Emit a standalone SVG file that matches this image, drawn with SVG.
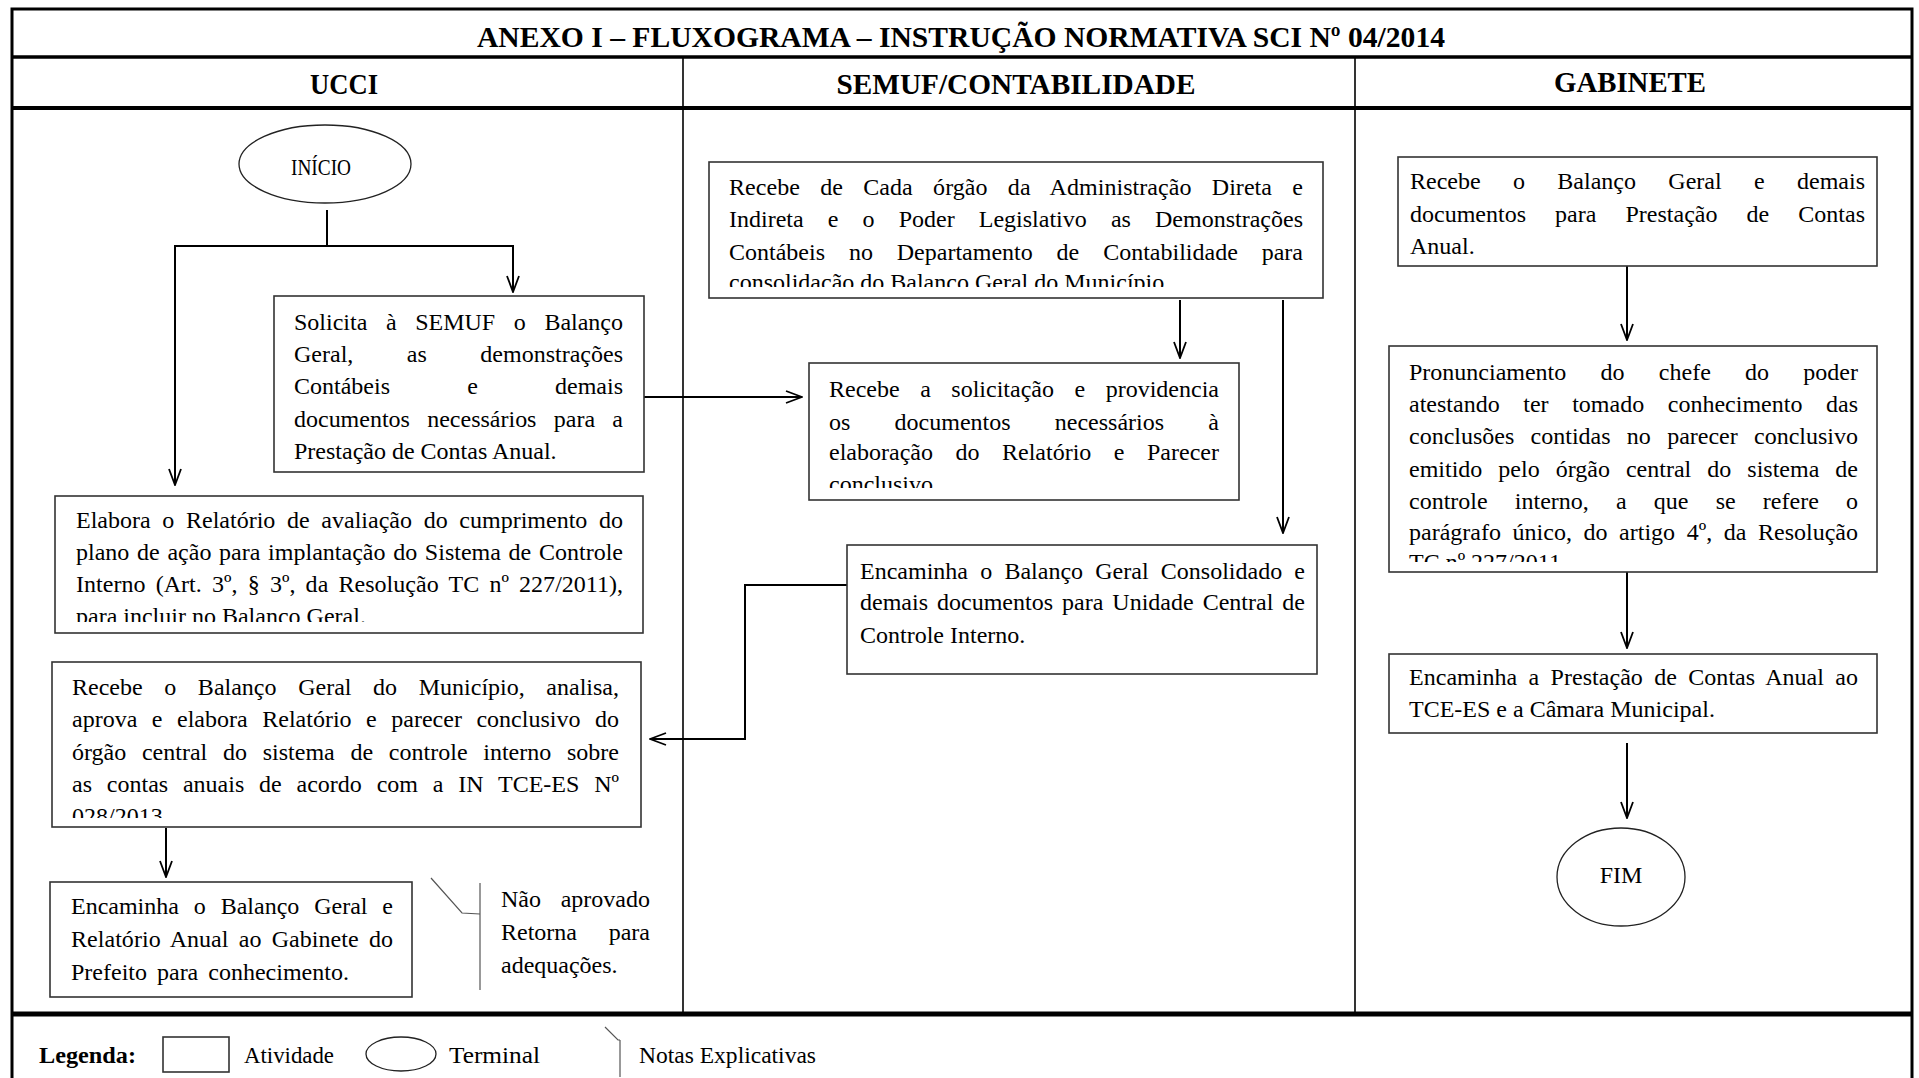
<svg xmlns="http://www.w3.org/2000/svg" width="1919" height="1078" viewBox="0 0 1919 1078">
<style>
.t{font-family:"Liberation Serif","Times New Roman",serif;font-size:24px;fill:#000}
.b{font-family:"Liberation Serif","Times New Roman",serif;font-weight:bold;fill:#000}
.box{fill:#fff;stroke:#333;stroke-width:1.6}
.term{fill:#fff;stroke:#222;stroke-width:1.3}
.conn{fill:none;stroke:#000;stroke-width:2}
.note{fill:none;stroke:#555;stroke-width:1.2}
.thick{stroke:#000;fill:none}
</style>
<defs>
<marker id="arr" markerUnits="userSpaceOnUse" viewBox="0 0 18 14" refX="17" refY="7" markerWidth="18" markerHeight="14" orient="auto">
<path d="M1,1 L17,7 L1,13" fill="none" stroke="#000" stroke-width="1.8"/>
</marker>
<clipPath id="cElabora" clipPathUnits="userSpaceOnUse"><rect x="55" y="496" width="588" height="126"/></clipPath>
<clipPath id="cRecAn" clipPathUnits="userSpaceOnUse"><rect x="52" y="662" width="589" height="156"/></clipPath>
<clipPath id="cCada" clipPathUnits="userSpaceOnUse"><rect x="709" y="162" width="614" height="125"/></clipPath>
<clipPath id="cSolic" clipPathUnits="userSpaceOnUse"><rect x="809" y="363" width="430" height="125"/></clipPath>
<clipPath id="cPron" clipPathUnits="userSpaceOnUse"><rect x="1389" y="346" width="488" height="216"/></clipPath>
</defs>
<rect width="1919" height="1078" fill="#fff"/>

<g id="frame">
<rect x="12" y="9" width="1900" height="1080" class="thick" stroke-width="3"/>
<line x1="12" y1="57" x2="1912" y2="57" class="thick" stroke-width="3.5"/>
<line x1="12" y1="108" x2="1912" y2="108" class="thick" stroke-width="4"/>
<line x1="12" y1="1014" x2="1912" y2="1014" class="thick" stroke-width="5"/>
<line x1="683" y1="57" x2="683" y2="1014" stroke="#000" stroke-width="1.6"/>
<line x1="1355" y1="57" x2="1355" y2="1014" stroke="#000" stroke-width="1.6"/>
<text class="b" x="961" y="47" font-size="30" text-anchor="middle" textLength="968" lengthAdjust="spacingAndGlyphs">ANEXO I – FLUXOGRAMA – INSTRUÇÃO NORMATIVA SCI Nº 04/2014</text>
<text class="b" x="344" y="94" font-size="30" text-anchor="middle" textLength="68" lengthAdjust="spacingAndGlyphs">UCCI</text>
<text class="b" x="1016" y="94" font-size="30" text-anchor="middle" textLength="359" lengthAdjust="spacingAndGlyphs">SEMUF/CONTABILIDADE</text>
<text class="b" x="1630" y="92" font-size="30" text-anchor="middle" textLength="152" lengthAdjust="spacingAndGlyphs">GABINETE</text>
</g>

<g id="connectors">
<path class="conn" d="M327,210 V246"/>
<path class="conn" d="M327,246 H513 V292" marker-end="url(#arr)"/>
<path class="conn" d="M327,246 H175 V485" marker-end="url(#arr)"/>
<path class="conn" d="M644,397 H802" marker-end="url(#arr)"/>
<path class="conn" d="M1180,300 V358" marker-end="url(#arr)"/>
<path class="conn" d="M1283,300 V533" marker-end="url(#arr)"/>
<path class="conn" d="M847,585 H745 V739 H650" marker-end="url(#arr)"/>
<path class="conn" d="M166,828 V877" marker-end="url(#arr)"/>
<path class="conn" d="M1627,266 V340" marker-end="url(#arr)"/>
<path class="conn" d="M1627,572 V648" marker-end="url(#arr)"/>
<path class="conn" d="M1627,743 V818" marker-end="url(#arr)"/>
</g>

<g id="n-inicio">
<ellipse class="term" cx="325" cy="164" rx="86" ry="39"/>
<text class="t" x="321" y="175" font-size="20" text-anchor="middle" textLength="60" lengthAdjust="spacingAndGlyphs">INÍCIO</text>
</g>

<g id="n-solicita">
<rect class="box" x="274" y="296" width="370" height="176"/>
<text class="t" x="294" y="330" word-spacing="12.6" textLength="329" lengthAdjust="spacing">Solicita à SEMUF o Balanço</text>
<text class="t" x="294" y="362" word-spacing="47.5" textLength="329" lengthAdjust="spacing">Geral, as demonstrações</text>
<text class="t" x="294" y="394" word-spacing="71.2" textLength="329" lengthAdjust="spacing">Contábeis e demais</text>
<text class="t" x="294" y="427" word-spacing="11.3" textLength="329" lengthAdjust="spacing">documentos necessários para a</text>
<text class="t" x="294" y="459">Prestação de Contas Anual.</text>
</g>

<g id="n-elabora">
<rect class="box" x="55" y="496" width="588" height="137"/>
<text class="t" x="76" y="528" word-spacing="5.7" textLength="547" lengthAdjust="spacing">Elabora o Relatório de avaliação do cumprimento do</text>
<text class="t" x="76" y="560" word-spacing="1.7" textLength="547" lengthAdjust="spacing">plano de ação para implantação do Sistema de Controle</text>
<text class="t" x="76" y="592" word-spacing="4.2" textLength="547" lengthAdjust="spacing">Interno (Art. 3º, § 3º, da Resolução TC nº 227/2011),</text>
<text class="t" x="76" y="624" clip-path="url(#cElabora)">para incluir no Balanço Geral.</text>
</g>

<g id="n-recebe-analisa">
<rect class="box" x="52" y="662" width="589" height="165"/>
<text class="t" x="72" y="695" word-spacing="15.6" textLength="547" lengthAdjust="spacing">Recebe o Balanço Geral do Município, analisa,</text>
<text class="t" x="72" y="727" word-spacing="8.5" textLength="547" lengthAdjust="spacing">aprova e elabora Relatório e parecer conclusivo do</text>
<text class="t" x="72" y="760" word-spacing="9.7" textLength="547" lengthAdjust="spacing">órgão central do sistema de controle interno sobre</text>
<text class="t" x="72" y="792" word-spacing="8.8" textLength="547" lengthAdjust="spacing">as contas anuais de acordo com a IN TCE-ES Nº</text>
<text class="t" x="72" y="824" clip-path="url(#cRecAn)">028/2013</text>
</g>

<g id="n-encaminha-gabinete">
<rect class="box" x="50" y="882" width="362" height="115"/>
<text class="t" x="71" y="914" word-spacing="8.9" textLength="322" lengthAdjust="spacing">Encaminha o Balanço Geral e</text>
<text class="t" x="71" y="947" word-spacing="4.2" textLength="322" lengthAdjust="spacing">Relatório Anual ao Gabinete do</text>
<text class="t" x="71" y="980" word-spacing="4">Prefeito para conhecimento.</text>
</g>

<g id="n-nota">
<path class="note" d="M431,878 L462,913 L480,914"/>
<line class="note" x1="480" y1="883" x2="480" y2="990"/>
<text class="t" x="501" y="907" word-spacing="13.7" textLength="149" lengthAdjust="spacing">Não aprovado</text>
<text class="t" x="501" y="940" word-spacing="25.7" textLength="149" lengthAdjust="spacing">Retorna para</text>
<text class="t" x="501" y="973">adequações.</text>
</g>

<g id="n-recebe-cada">
<rect class="box" x="709" y="162" width="614" height="136"/>
<text class="t" x="729" y="195" word-spacing="14.3" textLength="574" lengthAdjust="spacing">Recebe de Cada órgão da Administração Direta e</text>
<text class="t" x="729" y="227" word-spacing="18.1" textLength="574" lengthAdjust="spacing">Indireta e o Poder Legislativo as Demonstrações</text>
<text class="t" x="729" y="260" word-spacing="17.9" textLength="574" lengthAdjust="spacing">Contábeis no Departamento de Contabilidade para</text>
<text class="t" x="729" y="290" clip-path="url(#cCada)">consolidação do Balanço Geral do Município.</text>
</g>

<g id="n-recebe-solicitacao">
<rect class="box" x="809" y="363" width="430" height="137"/>
<text class="t" x="829" y="397" word-spacing="14.5" textLength="390" lengthAdjust="spacing">Recebe a solicitação e providencia</text>
<text class="t" x="829" y="430" word-spacing="38.2" textLength="390" lengthAdjust="spacing">os documentos necessários à</text>
<text class="t" x="829" y="460" word-spacing="16.5" textLength="390" lengthAdjust="spacing">elaboração do Relatório e Parecer</text>
<text class="t" x="829" y="492" clip-path="url(#cSolic)">conclusivo.</text>
</g>

<g id="n-encaminha-consolidado">
<rect class="box" x="847" y="545" width="470" height="129"/>
<text class="t" x="860" y="579" word-spacing="6.2" textLength="445" lengthAdjust="spacing">Encaminha o Balanço Geral Consolidado e</text>
<text class="t" x="860" y="610" word-spacing="3" textLength="445" lengthAdjust="spacing">demais documentos para Unidade Central de</text>
<text class="t" x="860" y="643">Controle Interno.</text>
</g>

<g id="n-recebe-balanco">
<rect class="box" x="1398" y="157" width="479" height="109"/>
<text class="t" x="1410" y="189" word-spacing="26.4" textLength="455" lengthAdjust="spacing">Recebe o Balanço Geral e demais</text>
<text class="t" x="1410" y="222" word-spacing="23.1" textLength="455" lengthAdjust="spacing">documentos para Prestação de Contas</text>
<text class="t" x="1410" y="254">Anual.</text>
</g>

<g id="n-pronunciamento">
<rect class="box" x="1389" y="346" width="488" height="226"/>
<text class="t" x="1409" y="380" word-spacing="28.3" textLength="449" lengthAdjust="spacing">Pronunciamento do chefe do poder</text>
<text class="t" x="1409" y="412" word-spacing="17.6" textLength="449" lengthAdjust="spacing">atestando ter tomado conhecimento das</text>
<text class="t" x="1409" y="444" word-spacing="10.3" textLength="449" lengthAdjust="spacing">conclusões contidas no parecer conclusivo</text>
<text class="t" x="1409" y="477" word-spacing="10" textLength="449" lengthAdjust="spacing">emitido pelo órgão central do sistema de</text>
<text class="t" x="1409" y="509" word-spacing="21.2" textLength="449" lengthAdjust="spacing">controle interno, a que se refere o</text>
<text class="t" x="1409" y="540" word-spacing="5.6" textLength="449" lengthAdjust="spacing">parágrafo único, do artigo 4º, da Resolução</text>
<text class="t" x="1409" y="570" clip-path="url(#cPron)">TC nº 227/2011.</text>
</g>

<g id="n-encaminha-prestacao">
<rect class="box" x="1389" y="654" width="488" height="79"/>
<text class="t" x="1409" y="685" word-spacing="5.3" textLength="449" lengthAdjust="spacing">Encaminha a Prestação de Contas Anual ao</text>
<text class="t" x="1409" y="717">TCE-ES e a Câmara Municipal.</text>
</g>

<g id="n-fim">
<ellipse class="term" cx="1621" cy="877" rx="64" ry="49"/>
<text class="t" x="1621" y="883" font-size="25" text-anchor="middle">FIM</text>
</g>

<g id="legend">
<text class="b" x="39" y="1063" font-size="24" textLength="97" lengthAdjust="spacingAndGlyphs">Legenda:</text>
<rect class="box" x="163" y="1037" width="66" height="35"/>
<text class="t" x="244" y="1063" textLength="90" lengthAdjust="spacingAndGlyphs">Atividade</text>
<ellipse class="term" cx="401" cy="1054" rx="35" ry="17"/>
<text class="t" x="449" y="1063" textLength="91" lengthAdjust="spacingAndGlyphs">Terminal</text>
<path class="note" d="M605,1027 L618,1040 L620,1040"/>
<line class="note" x1="620" y1="1040" x2="620" y2="1077"/>
<text class="t" x="639" y="1063" textLength="177" lengthAdjust="spacingAndGlyphs">Notas Explicativas</text>
</g>
</svg>
